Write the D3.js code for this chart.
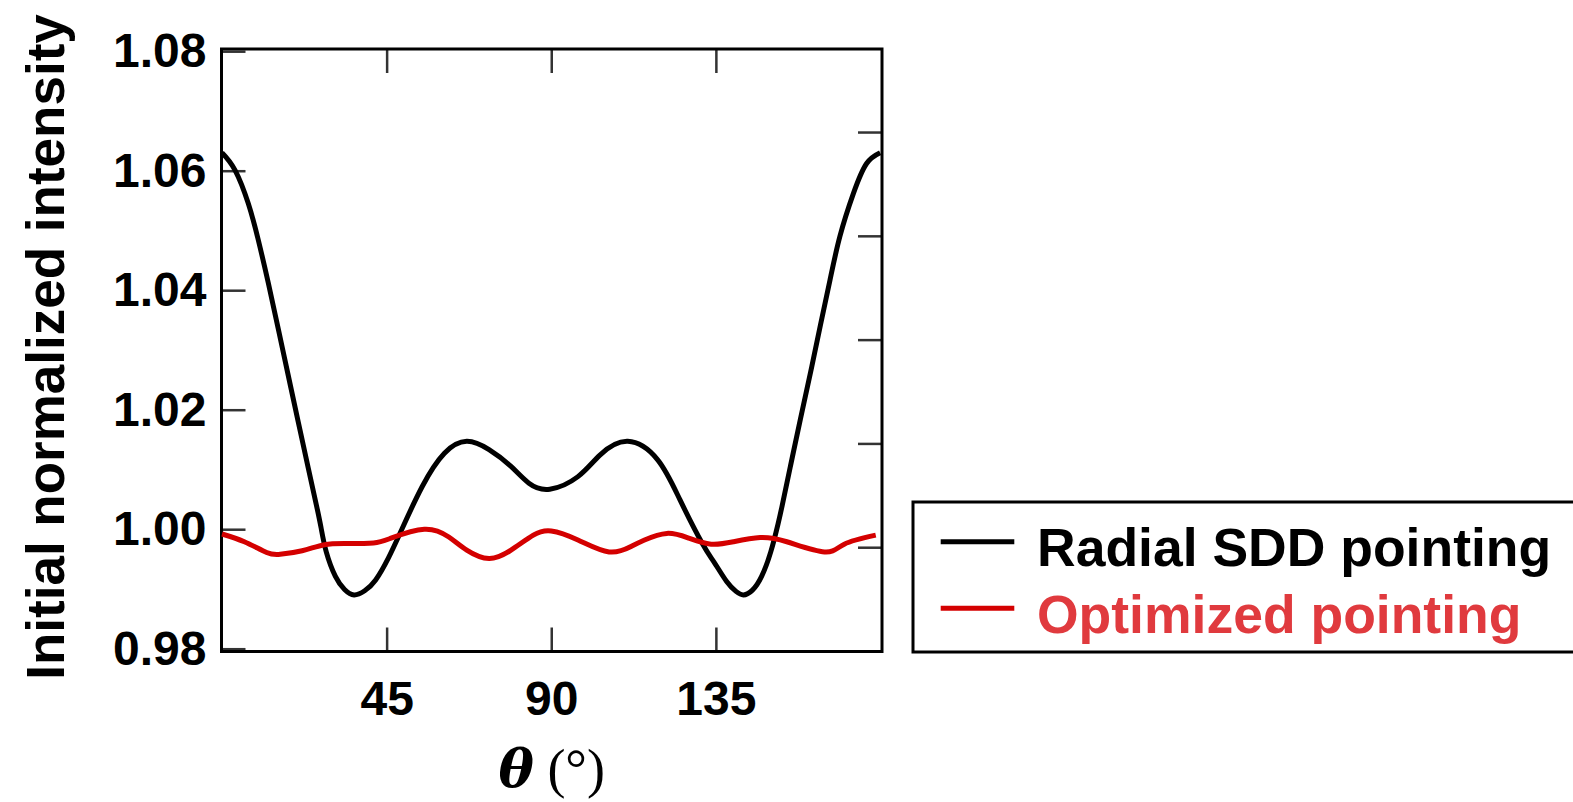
<!DOCTYPE html>
<html>
<head>
<meta charset="utf-8">
<script src="https://cdn.jsdelivr.net/npm/d3@7"></script>
<style>
  html, body { margin: 0; padding: 0; background: #fff; overflow: hidden; }
  text { font-family: "Liberation Sans", Arial, sans-serif; font-weight: bold; }
</style>
</head>
<body>
<div id="chart"></div>
<script>
// Data
const radialTheta = [0, 3.55, 7.19, 9.92, 12.66, 15.39, 18.12, 20.86, 23.59, 25.78,
  27.06, 28.5, 31, 33.5, 36.1, 39, 42, 45.5, 49.1, 54.7,
  60.8, 66.9, 73.0, 79.0, 83.9, 89.6, 97.3, 103.3, 110.9, 119.1,
  125.2, 131.3, 134.5, 138, 140.5, 142.5, 145, 147.5, 150, 152.0,
  153.1, 155.4, 158.1, 160.9, 163.6, 166.2, 168.9, 172.6, 176.2, 179.9]
const radialIntensity = [1.0630, 1.0601, 1.0545, 1.0484, 1.0412, 1.0335, 1.0257, 1.0179, 1.0102, 1.0041,
  1.0003, 0.9962, 0.9921, 0.9899, 0.9890, 0.9897, 0.9915, 0.9952, 0.9999, 1.0071,
  1.0127, 1.0147, 1.0133, 1.0105, 1.0077, 1.0067, 1.0088, 1.0124, 1.0147, 1.0116,
  1.0049, 0.9976, 0.9945, 0.9912, 0.9896, 0.9890, 0.9898, 0.9921, 0.9962, 1.0009,
  1.0039, 1.0106, 1.0184, 1.0263, 1.0342, 1.0417, 1.0490, 1.0562, 1.0612, 1.0630]

const optimizedTheta = [0, 6.1, 12.2, 15.9, 21.9, 28.0, 34.1, 41.4, 46.2, 55.3,
  62.0, 66.9, 73.0, 79.0, 85.1, 90.0, 97.3, 105.8, 111.8, 115.5,
  121.6, 127.6, 133.7, 139.8, 147.1, 154.4, 164.7, 170.1, 178.7]
const optimizedIntensity = [0.9992, 0.9979, 0.9961, 0.9958, 0.9964, 0.9974, 0.9976, 0.9977, 0.9985, 1.0000,
  0.9987, 0.9965, 0.9951, 0.9965, 0.9990, 0.9997, 0.9982, 0.9962, 0.9971, 0.9982,
  0.9993, 0.9985, 0.9975, 0.9979, 0.9986, 0.9979, 0.9962, 0.9975, 0.9990]

const xTicks = [45, 90, 135]
const yTicks = [0.98, 1.00, 1.02, 1.04, 1.06, 1.08]
const rightTicks = [1, 2, 3, 4, 5]   // unlabelled ticks on the right frame
const legendLabels = ['Radial SDD pointing', 'Optimized pointing']

function draw() {
  const width = 1573, height = 802

  const svg = d3.select('#chart')
    .append('svg')
    .attr('width', width)
    .attr('height', height)

  // Scales
  const xScale = d3.scaleLinear().domain([0, 180]).range([222, 880.5])
  const yScale = d3.scaleLinear().domain([0.98, 1.08]).range([648.7, 51.2])
  const yRight = d3.scaleLinear().domain([0, 5.8]).range([651, 49])

  const frame = { left: 221.5, right: 882, top: 49, bottom: 651.5 }

  // Axes (ticks point inward)
  const styleAxis = (g) => {
    g.select('.domain').remove()
    g.selectAll('.tick line').attr('stroke', '#333').attr('stroke-width', 2.5)
    g.selectAll('.tick text')
      .attr('fill', '#000')
      .style('font-size', '48px')
      .style('font-family', '"Liberation Sans", Arial, sans-serif')
      .style('font-weight', 'bold')
  }

  svg.append('g')
    .attr('transform', `translate(${frame.left},0)`)
    .call(d3.axisLeft(yScale).tickValues(yTicks).tickFormat(d3.format('.2f')).tickSize(-24).tickPadding(15))
    .call(styleAxis)

  svg.append('g')
    .attr('transform', `translate(0,${frame.bottom})`)
    .call(d3.axisBottom(xScale).tickValues(xTicks).tickSize(-24).tickPadding(29))
    .call(styleAxis)

  svg.append('g')
    .attr('transform', `translate(0,${frame.top})`)
    .call(d3.axisTop(xScale).tickValues(xTicks).tickSize(-24).tickFormat(''))
    .call(styleAxis)

  svg.append('g')
    .attr('transform', `translate(${frame.right},0)`)
    .call(d3.axisRight(yRight).tickValues(rightTicks).tickSize(-24).tickFormat(''))
    .call(styleAxis)

  svg.append('rect')
    .attr('x', frame.left).attr('y', frame.top)
    .attr('width', frame.right - frame.left)
    .attr('height', frame.bottom - frame.top)
    .attr('fill', 'none').attr('stroke', '#000').attr('stroke-width', 3)

  // Lines
  const line = d3.line()
    .x(d => xScale(d[0]))
    .y(d => yScale(d[1]))
    .curve(d3.curveNatural)

  svg.append('path')
    .datum(d3.zip(radialTheta, radialIntensity))
    .attr('d', line)
    .attr('fill', 'none').attr('stroke', '#000').attr('stroke-width', 5)

  svg.append('path')
    .datum(d3.zip(optimizedTheta, optimizedIntensity))
    .attr('d', line)
    .attr('fill', 'none').attr('stroke', '#d40000').attr('stroke-width', 5)

  // Axis titles
  svg.append('text')
    .attr('transform', 'translate(64,347) rotate(-90)')
    .attr('text-anchor', 'middle')
    .style('font-size', '53px')
    .text('Initial normalized intensity')

  const xTitle = svg.append('text')
    .attr('x', (frame.left + frame.right) / 2)
    .attr('y', 787)
    .attr('text-anchor', 'middle')
    .style('font-family', '"Liberation Serif", serif')
    .style('font-size', '54px')
  xTitle.append('tspan')
    .style('font-family', '"DejaVu Serif", serif')
    .style('font-style', 'italic').style('font-weight', 'bold')
    .style('font-size', '53px')
    .text('θ')
  xTitle.append('tspan').style('font-weight', 'normal').text(' (°)')

  // Legend
  const legend = svg.append('g')
  legend.append('rect')
    .attr('x', 913).attr('y', 502)
    .attr('width', 700).attr('height', 150)
    .attr('fill', '#fff').attr('stroke', '#000').attr('stroke-width', 3)

  const lineColors = ['#000', '#d40000']
  const textColors = ['#000', '#e03a3e']
  legendLabels.forEach((label, i) => {
    const y = 541.7 + i * 66.6
    legend.append('line')
      .attr('x1', 940.7).attr('x2', 1014.3)
      .attr('y1', y).attr('y2', y)
      .attr('stroke', lineColors[i]).attr('stroke-width', 5)
    legend.append('text')
      .attr('x', 1037)
      .attr('y', y + 24.5)
      .attr('fill', textColors[i])
      .style('font-size', '53.5px')
      .text(label)
  })
}
draw()
</script>
</body>
</html>
